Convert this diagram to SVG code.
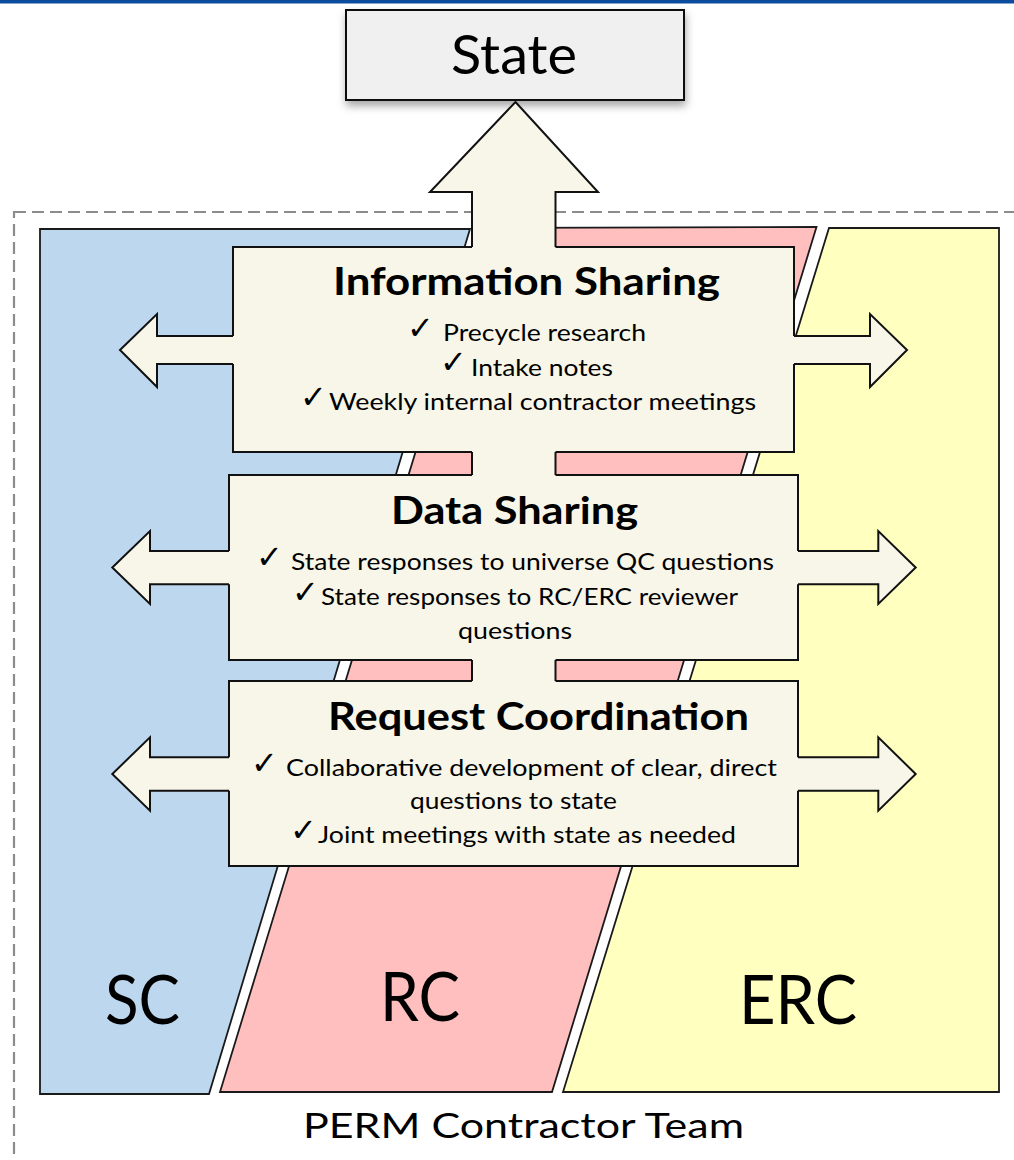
<svg xmlns="http://www.w3.org/2000/svg" width="1014" height="1160" viewBox="0 0 1014 1160">
  <defs>
    <filter id="shadow" x="-10%" y="-20%" width="120%" height="160%">
      <feDropShadow dx="1" dy="5" stdDeviation="4" flood-color="#000" flood-opacity="0.35"/>
    </filter>
    <style>
      .lane { stroke: #1a1a1a; stroke-width: 1.8; }
      .box { fill: #F8F6E8; stroke: #111; stroke-width: 2; }
      .afill { fill: #F8F6E8; stroke: none; }
      .astroke { fill: none; stroke: #111; stroke-width: 2; stroke-linejoin: miter; }
      .title { font-family: Lato, "Liberation Sans", sans-serif; font-weight: bold; font-size: 38px; fill: #000; }
      .body { font-family: Lato, "Liberation Sans", sans-serif; font-size: 23.5px; fill: #000; }
      .chk { font-family: "DejaVu Sans", sans-serif; font-size: 32px; fill: #000; }
      .big { font-family: Lato, "Liberation Sans", sans-serif; font-size: 67px; fill: #000; }
    </style>
  </defs>

  <rect x="0" y="0" width="1014" height="3.5" fill="#0B4C9E"/>

  <g id="team">
    <rect x="14" y="212" width="1100" height="1000" fill="none" stroke="#8c8c8c" stroke-width="2.2" stroke-dasharray="12 6"/>
    <text x="303" y="1138" font-family="Lato, 'Liberation Sans', sans-serif" font-size="35" textLength="441" lengthAdjust="spacingAndGlyphs">PERM Contractor Team</text>
  </g>

  <g id="sc">
    <polygon class="lane" fill="#BDD7EE" points="40,229 470,229 209,1094 40,1094"/>
    <text class="big" x="105" y="1024" textLength="75" lengthAdjust="spacingAndGlyphs">SC</text>
  </g>
  <g id="rc">
    <polygon class="lane" fill="#FFBFBF" points="484,228 816.5,227 552,1092 220,1092"/>
    <text class="big" x="380" y="1020.5" textLength="80" lengthAdjust="spacingAndGlyphs">RC</text>
  </g>
  <g id="erc">
    <polygon class="lane" fill="#FFFFBF" stroke="#333" stroke-width="1.8" points="829,228 999,228 999,1092 563,1092"/>
    <text class="big" x="739" y="1024" textLength="118" lengthAdjust="spacingAndGlyphs">ERC</text>
  </g>

  <g id="state">
    <rect x="346" y="10" width="338" height="90" fill="#F0F0F0" stroke="#111" stroke-width="2" filter="url(#shadow)"/>
    <text x="451" y="74" font-family="Lato, 'Liberation Sans', sans-serif" font-size="54.5" textLength="126" lengthAdjust="spacingAndGlyphs">State</text>
  </g>

  <g id="information-sharing">
    <rect class="box" x="233" y="247" width="561" height="205"/>
    <text class="title" x="333" y="295" textLength="387" lengthAdjust="spacingAndGlyphs">Information Sharing</text>
    <text class="chk" x="407" y="339">✓</text>
    <text class="body" x="443" y="341" textLength="203" lengthAdjust="spacingAndGlyphs">Precycle research</text>
    <text class="chk" x="440" y="373">✓</text>
    <text class="body" x="471" y="376" textLength="142" lengthAdjust="spacingAndGlyphs">Intake notes</text>
    <text class="chk" x="300" y="408">✓</text>
    <text class="body" x="329" y="410" textLength="427" lengthAdjust="spacingAndGlyphs">Weekly internal contractor meetings</text>
  </g>

  <g id="data-sharing">
    <rect class="box" x="229" y="475" width="569" height="185"/>
    <text class="title" x="391" y="523.5" textLength="247" lengthAdjust="spacingAndGlyphs">Data Sharing</text>
    <text class="chk" x="256" y="568">✓</text>
    <text class="body" x="291" y="570" textLength="483" lengthAdjust="spacingAndGlyphs">State responses to universe QC questions</text>
    <text class="chk" x="292" y="603">✓</text>
    <text class="body" x="321" y="605" textLength="417" lengthAdjust="spacingAndGlyphs">State responses to RC/ERC reviewer</text>
    <text class="body" x="458" y="639" textLength="114" lengthAdjust="spacingAndGlyphs">questions</text>
  </g>

  <g id="request-coordination">
    <rect class="box" x="229" y="681" width="569" height="185"/>
    <text class="title" x="328" y="730" textLength="421" lengthAdjust="spacingAndGlyphs">Request Coordination</text>
    <text class="chk" x="251" y="774">✓</text>
    <text class="body" x="286" y="776" textLength="491" lengthAdjust="spacingAndGlyphs">Collaborative development of clear, direct</text>
    <text class="body" x="410" y="809" textLength="207" lengthAdjust="spacingAndGlyphs">questions to state</text>
    <text class="chk" x="290" y="841">✓</text>
    <text class="body" x="318" y="843" textLength="418" lengthAdjust="spacingAndGlyphs">Joint meetings with state as needed</text>
  </g>

  <g id="connectors">
    <!-- up arrow to State -->
    <polygon class="afill" points="472,249.5 472,192 430,192 515.5,102 598,192 555.5,192 555.5,249.5"/>
    <path class="astroke" d="M472,247 V192 H430 L515.5,102 L598,192 H555.5 V247"/>
    <!-- vertical links between boxes -->
    <rect class="afill" x="472" y="450" width="83.5" height="27"/>
    <path class="astroke" d="M472,452 V475 M555.5,452 V475"/>
    <rect class="afill" x="472" y="658" width="83.5" height="25"/>
    <path class="astroke" d="M472,660 V681 M555.5,660 V681"/>
    <!-- Information Sharing side arrows -->
    <polygon class="afill" points="235.5,336 157,336 157,314 120,350 157,387 157,364 235.5,364"/>
    <path class="astroke" d="M233,336 H157 V314 L120,350 L157,387 V364 H233"/>
    <polygon class="afill" points="791.5,336 870,336 870,314 907,350 870,387 870,364 791.5,364"/>
    <path class="astroke" d="M794,336 H870 V314 L907,350 L870,387 V364 H794"/>
    <!-- Data Sharing side arrows -->
    <polygon class="afill" points="231.5,551 150,551 150,531 112.3,567.5 150,604 150,584.3 231.5,584.3"/>
    <path class="astroke" d="M229,551 H150 V531 L112.3,567.5 L150,604 V584.3 H229"/>
    <polygon class="afill" points="795.5,551 878.3,551 878.3,531 915.7,567.5 878.3,604 878.3,584.3 795.5,584.3"/>
    <path class="astroke" d="M798,551 H878.3 V531 L915.7,567.5 L878.3,604 V584.3 H798"/>
    <!-- Request Coordination side arrows -->
    <polygon class="afill" points="231.5,757.3 150,757.3 150,737.3 112.3,774 150,810.7 150,790.7 231.5,790.7"/>
    <path class="astroke" d="M229,757.3 H150 V737.3 L112.3,774 L150,810.7 V790.7 H229"/>
    <polygon class="afill" points="795.5,757.3 878.3,757.3 878.3,737.3 915.7,774 878.3,810.7 878.3,790.7 795.5,790.7"/>
    <path class="astroke" d="M798,757.3 H878.3 V737.3 L915.7,774 L878.3,810.7 V790.7 H798"/>
  </g>
</svg>
